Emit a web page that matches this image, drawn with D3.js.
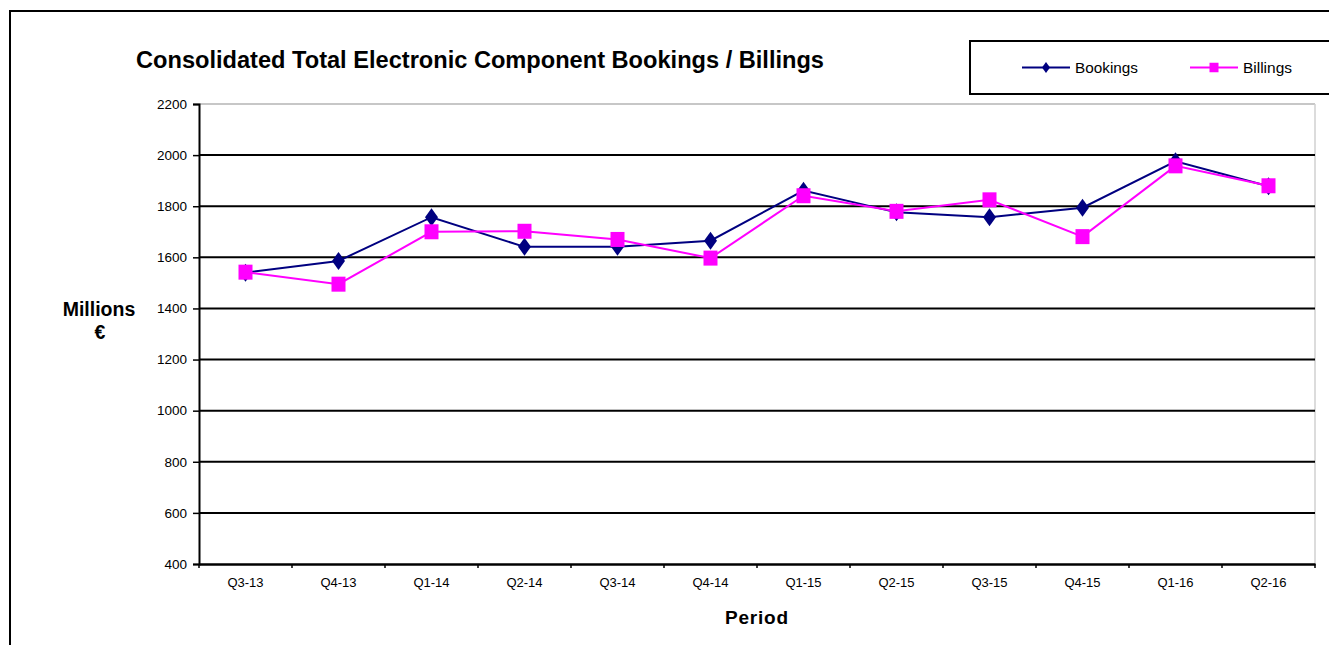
<!DOCTYPE html>
<html>
<head>
<meta charset="utf-8">
<script src="https://cdn.jsdelivr.net/npm/d3@7"></script>
<style>
  html, body { margin: 0; padding: 0; background: #fff; }
  svg { display: block; }
  text { font-family: "Liberation Sans", Arial, sans-serif; fill: #000; }
</style>
</head>
<body>
<svg id="chart" width="1329" height="645"></svg>
<script>
const categories = ["Q3-13","Q4-13","Q1-14","Q2-14","Q3-14","Q4-14","Q1-15","Q2-15","Q3-15","Q4-15","Q1-16","Q2-16"];
const bookings = [1540, 1586, 1757, 1641, 1641, 1665, 1861, 1776, 1757, 1794, 1976, 1878];
const billings = [1542, 1495, 1700, 1702, 1670, 1597, 1841, 1780, 1825, 1681, 1958, 1880];
const yTicks = [400, 600, 800, 1000, 1200, 1400, 1600, 1800, 2000, 2200];
const seriesNames = ["Bookings", "Billings"];
const titleText = "Consolidated Total Electronic Component Bookings / Billings";

const svg = d3.select("#chart");
const W = 1329, H = 645;
svg.append("rect").attr("width", W).attr("height", H).attr("fill", "#fff");

// outer frame
svg.append("rect").attr("x", 10).attr("y", 11).attr("width", 1400).attr("height", 700)
  .attr("fill", "none").attr("stroke", "#000").attr("stroke-width", 2);

const x = d3.scaleBand().domain(categories).range([199, 1315]);
const y = d3.scaleLinear().domain([400, 2200]).range([564, 104]);

// plot area border (gray top & right)
svg.append("line").attr("x1", 199).attr("x2", 1315).attr("y1", y(2200)).attr("y2", y(2200))
  .attr("stroke", "#b4b4b4").attr("stroke-width", 1.5);
svg.append("line").attr("x1", 1315).attr("x2", 1315).attr("y1", y(2200)).attr("y2", y(400))
  .attr("stroke", "#d0d0d0").attr("stroke-width", 1.5);

// gridlines
svg.append("g").selectAll("line").data(yTicks.filter(v => v > 400 && v < 2200)).join("line")
  .attr("x1", 199).attr("x2", 1315)
  .attr("y1", d => y(d)).attr("y2", d => y(d))
  .attr("stroke", "#000").attr("stroke-width", 2);

// y axis
const yAxis = svg.append("g").attr("transform", "translate(199,0)")
  .call(d3.axisLeft(y).tickValues(yTicks).tickSize(6).tickPadding(6).tickFormat(d3.format("d")));
yAxis.select(".domain").attr("stroke", "#000").attr("stroke-width", 2);
yAxis.selectAll(".tick line").attr("stroke", "#000").attr("stroke-width", 1.5);
yAxis.selectAll("text").attr("font-size", "13.5px").attr("fill", "#000").style("font-family", "'Liberation Sans', Arial, sans-serif");

// x axis
const xAxis = svg.append("g").attr("transform", "translate(0,564)")
  .call(d3.axisBottom(x).tickSize(0).tickPadding(14));
xAxis.select(".domain").attr("stroke", "#000").attr("stroke-width", 2.5);
xAxis.selectAll("text").attr("font-size", "13px").attr("fill", "#000").style("font-family", "'Liberation Sans', Arial, sans-serif");
const bounds = categories.map(c => x(c)).concat([x.range()[1]]);
svg.append("g").selectAll("line").data(bounds).join("line")
  .attr("x1", d => d).attr("x2", d => d).attr("y1", 564).attr("y2", 568)
  .attr("stroke", "#000").attr("stroke-width", 1.5);

const cx = c => x(c) + x.bandwidth() / 2;
const line = d3.line().x((d, i) => cx(categories[i])).y(d => y(d));

function diamond(g, px, py, w, h, color) {
  g.append("path").attr("d", `M${px},${py - h/2}L${px + w/2},${py}L${px},${py + h/2}L${px - w/2},${py}Z`)
    .attr("fill", color);
}
function square(g, px, py, w, h, color) {
  g.append("rect").attr("x", px - w/2).attr("y", py - h/2).attr("width", w).attr("height", h).attr("fill", color);
}

// Bookings
const gB = svg.append("g");
gB.append("path").datum(bookings).attr("d", line).attr("fill", "none").attr("stroke", "#000080").attr("stroke-width", 2);
bookings.forEach((v, i) => diamond(gB, cx(categories[i]), y(v), 13, 18, "#000080"));

// Billings
const gL = svg.append("g");
gL.append("path").datum(billings).attr("d", line).attr("fill", "none").attr("stroke", "#ff00ff").attr("stroke-width", 2);
billings.forEach((v, i) => square(gL, cx(categories[i]), y(v), 14, 15, "#ff00ff"));

// title
svg.append("text").attr("x", 136).attr("y", 68).attr("font-size", "23px").attr("font-weight", "bold")
  .attr("textLength", 688).attr("lengthAdjust", "spacingAndGlyphs").text(titleText);

// y label
svg.append("text").attr("x", 99).attr("y", 316).attr("text-anchor", "middle")
  .attr("font-size", "19.5px").attr("font-weight", "bold").text("Millions");
svg.append("text").attr("x", 100).attr("y", 339).attr("text-anchor", "middle")
  .attr("font-size", "19.5px").attr("font-weight", "bold").text("€");

// x label
svg.append("text").attr("x", 725).attr("y", 624)
  .attr("font-size", "19px").attr("font-weight", "bold")
  .attr("textLength", 63).attr("lengthAdjust", "spacing").text("Period");

// legend
svg.append("rect").attr("x", 970).attr("y", 41).attr("width", 420).attr("height", 53)
  .attr("fill", "#fff").attr("stroke", "#000").attr("stroke-width", 2);
const lg = svg.append("g");
lg.append("line").attr("x1", 1022).attr("x2", 1070).attr("y1", 67.5).attr("y2", 67.5).attr("stroke", "#000080").attr("stroke-width", 2);
diamond(lg, 1046, 67.5, 8, 11, "#000080");
lg.append("text").attr("x", 1075).attr("y", 73).attr("font-size", "15.5px")
  .attr("textLength", 63).attr("lengthAdjust", "spacingAndGlyphs").text(seriesNames[0]);
lg.append("line").attr("x1", 1190).attr("x2", 1238).attr("y1", 67.5).attr("y2", 67.5).attr("stroke", "#ff00ff").attr("stroke-width", 2);
square(lg, 1214, 67.5, 9, 9.5, "#ff00ff");
lg.append("text").attr("x", 1243).attr("y", 73).attr("font-size", "15.5px")
  .attr("textLength", 49).attr("lengthAdjust", "spacingAndGlyphs").text(seriesNames[1]);
</script>
</body>
</html>
